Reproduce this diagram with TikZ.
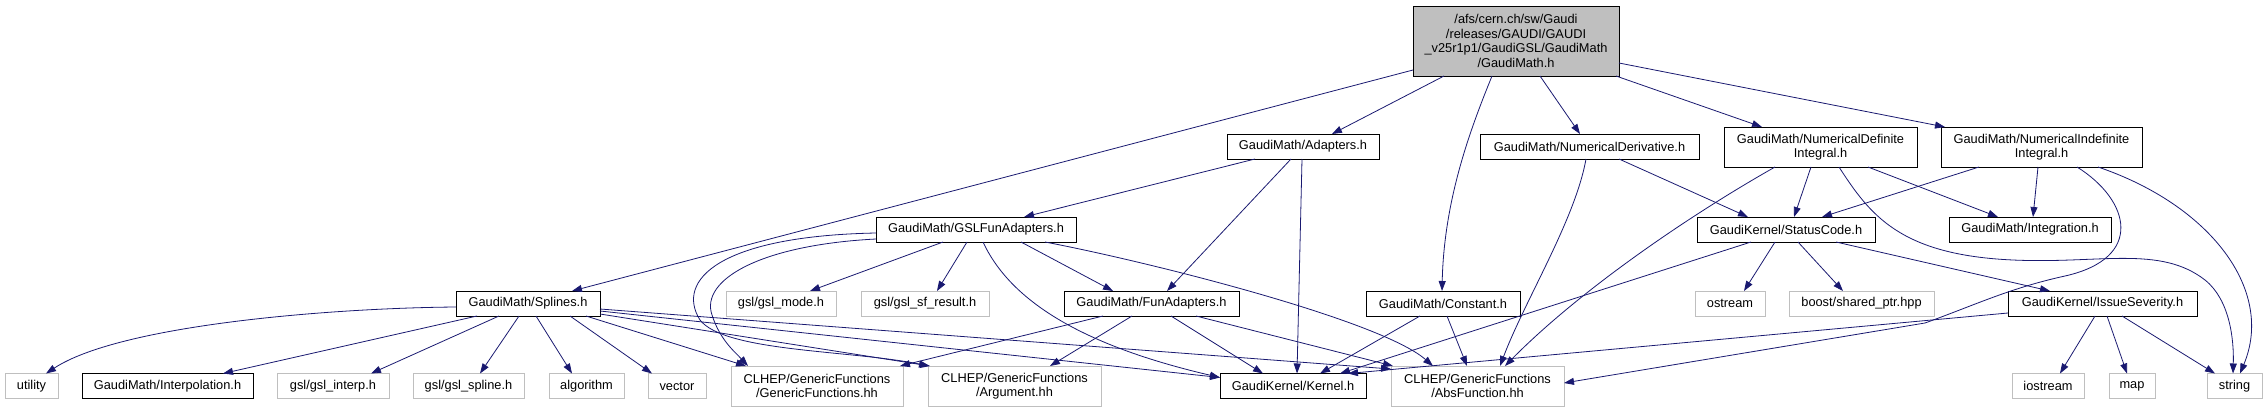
\documentclass[tikz,border=0pt]{standalone}
\usepackage{fontspec}
\setmainfont{Liberation Sans}
\usetikzlibrary{arrows.meta}
\definecolor{edgec}{HTML}{191970}
\definecolor{extc}{HTML}{BFBFBF}
\begin{document}
\begin{tikzpicture}[x=1pt,y=-1pt,
  nd/.style={draw=black, line width=0.9pt, inner sep=0pt, outer sep=0pt,
    font=\fontsize{12.8}{14.5}\selectfont, align=center, text=black},
  ext/.style={nd, draw=extc},
  e/.style={draw=edgec, line width=0.8pt, -{Triangle[length=10pt,width=7pt]}}]
\useasboundingbox (0,0) rectangle (2268,413);
% nodes
\node[nd, fill=extc, minimum width=206pt, minimum height=70pt] (root) at (1516,41)
  {/afs/cern.ch/sw/Gaudi\\/releases/GAUDI/GAUDI\\\_v25r1p1/GaudiGSL/GaudiMath\\/GaudiMath.h};
\node[nd, minimum width=152pt, minimum height=25pt] (adapters) at (1303,146.5) {GaudiMath/Adapters.h};
\node[nd, minimum width=219pt, minimum height=25pt] (numderiv) at (1589.5,146.5) {GaudiMath/NumericalDerivative.h};
\node[nd, minimum width=193pt, minimum height=40pt] (numdef) at (1820.5,147) {GaudiMath/NumericalDefinite\\Integral.h};
\node[nd, minimum width=201pt, minimum height=40pt] (numindef) at (2041.5,147) {GaudiMath/NumericalIndefinite\\Integral.h};
\node[nd, minimum width=200pt, minimum height=25pt] (gslfun) at (976,229.5) {GaudiMath/GSLFunAdapters.h};
\node[nd, minimum width=178pt, minimum height=25pt] (statuscode) at (1786,229.5) {GaudiKernel/StatusCode.h};
\node[nd, minimum width=162pt, minimum height=25pt] (integration) at (2030,229.5) {GaudiMath/Integration.h};
\node[nd, minimum width=144pt, minimum height=25pt] (splines) at (528,303.5) {GaudiMath/Splines.h};
\node[ext, minimum width=110pt, minimum height=25pt] (gslmode) at (781,303.5) {gsl/gsl\_mode.h};
\node[ext, minimum width=128pt, minimum height=25pt] (gslsf) at (925,303.5) {gsl/gsl\_sf\_result.h};
\node[nd, minimum width=175pt, minimum height=25pt] (funadapters) at (1151.5,303.5) {GaudiMath/FunAdapters.h};
\node[nd, minimum width=154pt, minimum height=25pt] (constant) at (1443,303.5) {GaudiMath/Constant.h};
\node[ext, minimum width=70pt, minimum height=25pt] (ostream) at (1730,303.5) {ostream};
\node[ext, minimum width=145pt, minimum height=25pt] (boost) at (1861.5,303.5) {boost/shared\_ptr.hpp};
\node[nd, minimum width=189pt, minimum height=25pt] (issue) at (2102.5,303.5) {GaudiKernel/IssueSeverity.h};
\node[ext, minimum width=53pt, minimum height=25pt] (utility) at (31.5,386) {utility};
\node[nd, minimum width=171pt, minimum height=25pt] (interp) at (167.5,386) {GaudiMath/Interpolation.h};
\node[ext, minimum width=112pt, minimum height=25pt] (gslinterp) at (333,386) {gsl/gsl\_interp.h};
\node[ext, minimum width=111pt, minimum height=25pt] (gslspline) at (468.5,386) {gsl/gsl\_spline.h};
\node[ext, minimum width=75pt, minimum height=25pt] (algorithm) at (586.5,386) {algorithm};
\node[ext, minimum width=58pt, minimum height=25pt] (vector) at (677,386) {vector};
\node[ext, minimum width=172pt, minimum height=40pt] (genfun) at (817,386) {CLHEP/GenericFunctions\\/GenericFunctions.hh};
\node[ext, minimum width=173pt, minimum height=40pt] (argument) at (1014.5,386) {CLHEP/GenericFunctions\\/Argument.hh};
\node[nd, minimum width=146pt, minimum height=25pt] (kernel) at (1293,386) {GaudiKernel/Kernel.h};
\node[ext, minimum width=173pt, minimum height=40pt] (absfun) at (1477.5,386) {CLHEP/GenericFunctions\\/AbsFunction.hh};
\node[ext, minimum width=72pt, minimum height=25pt] (iostream) at (2048,386) {iostream};
\node[ext, minimum width=46pt, minimum height=25pt] (map) at (2132,386) {map};
\node[ext, minimum width=55pt, minimum height=25pt] (string) at (2234.5,386) {string};
% root edges
\draw[e] ([shift={(0,64)}]root.north west) -- ([shift={(116,0)}]splines.north west);
\draw[e] ([shift={(31,70)}]root.north west) -- ([shift={(105,0)}]adapters.north west);
\draw[e] ([shift={(79,70)}]root.north west) .. controls (1470,130) and (1444,200) .. ([shift={(76,0)}]constant.north west);
\draw[e] ([shift={(127,70)}]root.north west) -- ([shift={(100,0)}]numderiv.north west);
\draw[e] ([shift={(203,70)}]root.north west) -- ([shift={(38,0)}]numdef.north west);
\draw[e] ([shift={(206,57)}]root.north west) -- ([shift={(4,0)}]numindef.north west);
% adapters
\draw[e] ([shift={(28,25)}]adapters.north west) -- ([shift={(148,0)}]gslfun.north west);
\draw[e] ([shift={(64,25)}]adapters.north west) -- ([shift={(103,0)}]funadapters.north west);
\draw[e] ([shift={(75,25)}]adapters.north west) -- ([shift={(77,0)}]kernel.north west);
% numderiv
\draw[e] ([shift={(139,25)}]numderiv.north west) -- ([shift={(51,0)}]statuscode.north west);
\draw[e] ([shift={(106,25)}]numderiv.north west) .. controls (1575,220) and (1525,300) .. ([shift={(109,0)}]absfun.north west);
% numdef
\draw[e] ([shift={(87,40)}]numdef.north west) -- ([shift={(97,0)}]statuscode.north west);
\draw[e] ([shift={(144,40)}]numdef.north west) -- ([shift={(49,0)}]integration.north west);
\draw[e] ([shift={(51,40)}]numdef.north west) .. controls (1690,215) and (1580,290) .. ([shift={(114,0)}]absfun.north west);
\draw[e] ([shift={(115,40)}]numdef.north west) .. controls (1870,215) and (1900,255) .. (2013,260)
  .. controls (2100,264) and (2160,245) .. (2205,280) .. controls (2230,300) and (2234,340) .. ([shift={(26,0)}]string.north west);
% numindef
\draw[e] ([shift={(38,40)}]numindef.north west) -- ([shift={(125,0)}]statuscode.north west);
\draw[e] ([shift={(97,40)}]numindef.north west) -- ([shift={(84,0)}]integration.north west);
\draw[e] ([shift={(136,40)}]numindef.north west) .. controls (2130,200) and (2145,258) .. (2065,276)
  .. controls (2010,288) and (1975,305) .. (1925,323) -- ([shift={(173,17)}]absfun.north west);
\draw[e] ([shift={(157,40)}]numindef.north west) .. controls (2210,205) and (2275,290) .. ([shift={(33,0)}]string.north west);
% gslfun
\draw[e] ([shift={(67,25)}]gslfun.north west) -- ([shift={(84,0)}]gslmode.north west);
\draw[e] ([shift={(91,25)}]gslfun.north west) -- ([shift={(76,0)}]gslsf.north west);
\draw[e] ([shift={(107,25)}]gslfun.north west) .. controls (1010,300) and (1080,345) .. ([shift={(0,4)}]kernel.north west);
\draw[e] ([shift={(145,25)}]gslfun.north west) -- ([shift={(49,0)}]funadapters.north west);
\draw[e] ([shift={(169,25)}]gslfun.north west) .. controls (1150,262) and (1380,320) .. ([shift={(42,0)}]absfun.north west);
\draw[e] ([shift={(0,16)}]gslfun.north west) .. controls (720,236) and (675,280) .. (700,320)
  .. controls (725,352) and (850,350) .. ([shift={(1,0)}]argument.north west);
\draw[e] ([shift={(0,22)}]gslfun.north west) .. controls (760,245) and (700,280) .. (712,315)
  .. controls (720,340) and (735,352) .. ([shift={(17,0)}]genfun.north west);
% funadapters
\draw[e] ([shift={(39,25)}]funadapters.north west) -- ([shift={(169,0)}]genfun.north west);
\draw[e] ([shift={(68,25)}]funadapters.north west) -- ([shift={(122,0)}]argument.north west);
\draw[e] ([shift={(107,25)}]funadapters.north west) -- ([shift={(43,0)}]kernel.north west);
\draw[e] ([shift={(132,25)}]funadapters.north west) -- ([shift={(2,0)}]absfun.north west);
% constant
\draw[e] ([shift={(54,25)}]constant.north west) -- ([shift={(100,0)}]kernel.north west);
\draw[e] ([shift={(81,25)}]constant.north west) -- ([shift={(76,0)}]absfun.north west);
% statuscode
\draw[e] ([shift={(54,25)}]statuscode.north west) -- ([shift={(120,0)}]kernel.north west);
\draw[e] ([shift={(78,25)}]statuscode.north west) -- ([shift={(49,0)}]ostream.north west);
\draw[e] ([shift={(101,25)}]statuscode.north west) -- ([shift={(54,0)}]boost.north west);
\draw[e] ([shift={(139,25)}]statuscode.north west) -- ([shift={(42,0)}]issue.north west);
% issue
\draw[e] ([shift={(0,22)}]issue.north west) -- ([shift={(128,0)}]kernel.north west);
\draw[e] ([shift={(87,25)}]issue.north west) -- ([shift={(48,0)}]iostream.north west);
\draw[e] ([shift={(99,25)}]issue.north west) -- ([shift={(18,0)}]map.north west);
\draw[e] ([shift={(114,25)}]issue.north west) -- ([shift={(8,0)}]string.north west);
% splines
\draw[e] ([shift={(0,16)}]splines.north west) .. controls (330,308) and (120,325) .. ([shift={(41,0)}]utility.north west);
\draw[e] ([shift={(21,25)}]splines.north west) -- ([shift={(141,0)}]interp.north west);
\draw[e] ([shift={(43,25)}]splines.north west) -- ([shift={(94,0)}]gslinterp.north west);
\draw[e] ([shift={(63,25)}]splines.north west) -- ([shift={(67,0)}]gslspline.north west);
\draw[e] ([shift={(80,25)}]splines.north west) -- ([shift={(23,0)}]algorithm.north west);
\draw[e] ([shift={(114,25)}]splines.north west) -- ([shift={(4,0)}]vector.north west);
\draw[e] ([shift={(130,25)}]splines.north west) -- ([shift={(15,0)}]genfun.north west);
\draw[e] ([shift={(144,23)}]splines.north west) -- ([shift={(2,0)}]argument.north west);
\draw[e] ([shift={(144,20)}]splines.north west) -- ([shift={(0,4)}]kernel.north west);
\draw[e] ([shift={(144,18)}]splines.north west) -- ([shift={(0,3)}]absfun.north west);
\end{tikzpicture}
\end{document}
